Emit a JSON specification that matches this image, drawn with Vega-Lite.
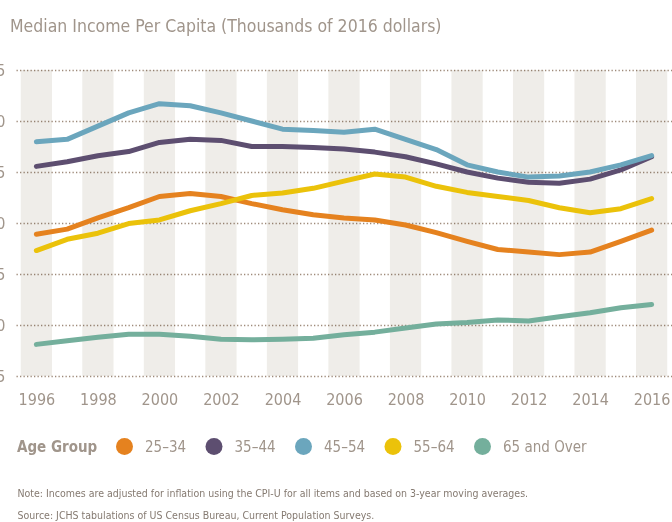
{
  "$schema": "https://vega.github.io/schema/vega-lite/v6.json",
  "width": 656,
  "height": 306,
  "autosize": {"type": "none"},
  "padding": {"left": 16, "top": 70, "right": 0, "bottom": 146},
  "background": "white",
  "config": {
    "view": {"stroke": null},
    "font": "DejaVu Sans Condensed"
  },
  "title": {
    "text": "Median Income Per Capita (Thousands of 2016 dollars)",
    "anchor": "start",
    "frame": "group",
    "dx": -6,
    "offset": 27,
    "font": "DejaVu Sans Condensed",
    "fontSize": 17.5,
    "fontWeight": "normal",
    "color": "#a0958b"
  },
  "data": {
    "values": [
      {"year": 1996, "25–34": 28.9, "35–44": 35.55, "45–54": 37.96, "55–64": 27.3, "65 and Over": 18.1},
      {"year": 1997, "25–34": 29.4, "35–44": 36.0, "45–54": 38.2, "55–64": 28.4, "65 and Over": 18.45},
      {"year": 1998, "25–34": 30.5, "35–44": 36.6, "45–54": 39.5, "55–64": 29.0, "65 and Over": 18.8},
      {"year": 1999, "25–34": 31.5, "35–44": 37.0, "45–54": 40.8, "55–64": 29.95, "65 and Over": 19.1},
      {"year": 2000, "25–34": 32.6, "35–44": 37.9, "45–54": 41.7, "55–64": 30.3, "65 and Over": 19.1},
      {"year": 2001, "25–34": 32.9, "35–44": 38.2, "45–54": 41.5, "55–64": 31.2, "65 and Over": 18.9},
      {"year": 2002, "25–34": 32.6, "35–44": 38.1, "45–54": 40.8, "55–64": 31.9, "65 and Over": 18.6},
      {"year": 2003, "25–34": 31.9, "35–44": 37.5, "45–54": 40.0, "55–64": 32.7, "65 and Over": 18.55},
      {"year": 2004, "25–34": 31.3, "35–44": 37.5, "45–54": 39.2, "55–64": 32.95, "65 and Over": 18.6},
      {"year": 2005, "25–34": 30.8, "35–44": 37.4, "45–54": 39.07, "55–64": 33.4, "65 and Over": 18.7},
      {"year": 2006, "25–34": 30.5, "35–44": 37.25, "45–54": 38.9, "55–64": 34.1, "65 and Over": 19.05},
      {"year": 2007, "25–34": 30.3, "35–44": 36.95, "45–54": 39.2, "55–64": 34.8, "65 and Over": 19.3},
      {"year": 2008, "25–34": 29.8, "35–44": 36.5, "45–54": 38.2, "55–64": 34.5, "65 and Over": 19.7},
      {"year": 2009, "25–34": 29.05, "35–44": 35.8, "45–54": 37.2, "55–64": 33.6, "65 and Over": 20.1},
      {"year": 2010, "25–34": 28.2, "35–44": 35.0, "45–54": 35.7, "55–64": 33.0, "65 and Over": 20.25},
      {"year": 2011, "25–34": 27.4, "35–44": 34.4, "45–54": 35.0, "55–64": 32.6, "65 and Over": 20.5},
      {"year": 2012, "25–34": 27.15, "35–44": 34.0, "45–54": 34.5, "55–64": 32.2, "65 and Over": 20.4},
      {"year": 2013, "25–34": 26.9, "35–44": 33.9, "45–54": 34.6, "55–64": 31.5, "65 and Over": 20.8},
      {"year": 2014, "25–34": 27.15, "35–44": 34.3, "45–54": 35.0, "55–64": 31.0, "65 and Over": 21.2},
      {"year": 2015, "25–34": 28.2, "35–44": 35.2, "45–54": 35.7, "55–64": 31.4, "65 and Over": 21.7},
      {"year": 2016, "25–34": 29.3, "35–44": 36.5, "45–54": 36.6, "55–64": 32.4, "65 and Over": 22.0}
    ]
  },
  "layer": [
    {
      "transform": [{"filter": "datum.year % 2 == 0"}],
      "mark": {"type": "bar", "width": 31.24, "color": "#efede9", "blend": "multiply"},
      "encoding": {
        "x": {"field": "year", "type": "quantitative"},
        "y": {"datum": 45},
        "y2": {"datum": 15}
      }
    },
    {
      "transform": [{"fold": ["25–34", "35–44", "45–54", "55–64", "65 and Over"], "as": ["group", "value"]}],
      "mark": {"type": "line", "strokeWidth": 5, "strokeCap": "round", "strokeJoin": "round"},
      "encoding": {
        "x": {
          "field": "year",
          "type": "quantitative",
          "scale": {"domain": [1995.5, 2016.5], "nice": false, "zero": false},
          "axis": {
            "values": [1996, 1998, 2000, 2002, 2004, 2006, 2008, 2010, 2012, 2014, 2016],
            "format": "d",
            "domain": false,
            "ticks": false,
            "grid": false,
            "labelFont": "DejaVu Sans Condensed",
            "labelFontSize": 16,
            "labelColor": "#a0958b",
            "labelPadding": 15,
            "title": ["Note: Incomes are adjusted for inflation using the CPI-U for all items and based on 3-year moving averages.", "Source: JCHS tabulations of US Census Bureau, Current Population Surveys."],
            "titleFont": "DejaVu Sans Condensed",
            "titleFontSize": 10.5,
            "titleFontWeight": "normal",
            "titleColor": "#857a71",
            "titleAnchor": "start",
            "titleAlign": "left",
            "titleBaseline": "middle",
            "titleLineHeight": 22,
            "titleX": 1,
            "titleY": 117
          }
        },
        "y": {
          "field": "value",
          "type": "quantitative",
          "scale": {"domain": [15, 45], "nice": false, "zero": false},
          "axis": {
            "values": [15, 20, 25, 30, 35, 40, 45],
            "domain": false,
            "ticks": false,
            "grid": true,
            "gridColor": "#9e8a7a",
            "gridDash": [1.3, 2.2],
            "gridWidth": 1.3,
            "labelFont": "DejaVu Sans Condensed",
            "labelFontSize": 16,
            "labelColor": "#a0958b",
            "labelPadding": 11,
            "title": null
          }
        },
        "color": {
          "field": "group",
          "type": "nominal",
          "scale": {
            "domain": ["25–34", "35–44", "45–54", "55–64", "65 and Over"],
            "range": ["#e5821f", "#5d4e70", "#6ba6bd", "#ebc20a", "#74af9c"]
          },
          "legend": {
            "title": "Age Group",
            "orient": "none",
            "legendX": 1,
            "legendY": 368,
            "direction": "horizontal",
            "titleOrient": "left",
            "titleFont": "DejaVu Sans Condensed",
            "titleFontSize": 15,
            "titleFontWeight": "bold",
            "titleColor": "#a0958b",
            "titlePadding": 18,
            "titleBaseline": "middle",
            "symbolType": "circle",
            "symbolSize": 289,
            "labelFont": "DejaVu Sans Condensed",
            "labelFontSize": 15,
            "labelColor": "#a0958b",
            "labelOffset": 12,
            "columnPadding": 18.5,
            "encode": {
              "symbols": {
                "update": {
                  "fill": {"scale": "color", "field": "value"},
                  "stroke": {"value": "transparent"},
                  "strokeWidth": {"value": 0},
                  "opacity": {"value": 1}
                }
              }
            }
          }
        }
      }
    }
  ]
}
